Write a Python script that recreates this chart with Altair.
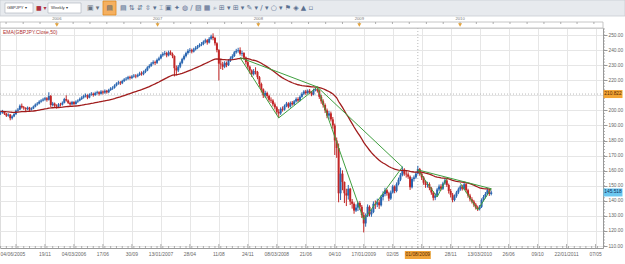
import altair as alt
import pandas as pd
import numpy as np

# ---------------- data ----------------
first_bar = "2005-06-11"          # weekly bars, one every 7 days
first_open = 198.0
ema_seed = 199.3                  # EMA value at the left edge

closes = [
    198.5, 199.2, 197.8, 196.5, 197.2, 194.8, 196.0, 197.5, 199.8, 200.5,
    203.0, 202.0, 201.5, 200.8, 201.8, 200.5, 201.2, 202.5, 203.8, 204.5,
    205.8, 206.5, 207.2, 208.0, 207.0, 209.5, 203.5, 204.5, 203.0, 202.5,
    204.0, 203.8, 205.0, 207.5, 206.5, 205.0, 204.0, 205.5, 204.2, 205.8,
    206.5, 207.5, 208.5, 209.5, 210.0, 208.5, 210.5, 211.0, 210.2, 211.5,
    212.0, 211.0, 212.5, 211.8, 213.0, 212.0, 213.5, 214.5, 215.0, 216.5,
    217.8, 218.5, 218.0, 219.5, 220.5, 221.0, 222.0, 221.5, 222.5, 223.0,
    222.5, 223.5, 224.5, 224.0, 225.5, 226.5, 228.5, 229.5, 231.0, 232.0,
    231.5, 233.5, 234.5, 236.5, 237.5, 238.0, 236.5, 238.5, 237.5, 236.0,
    228.0, 226.5, 229.0, 231.5, 234.0, 236.0, 238.0, 239.5, 240.0, 239.0,
    240.5, 241.5, 242.5, 243.5, 244.0, 245.5, 246.5, 245.0, 247.5, 249.0,
    248.0, 244.5, 240.0, 231.0, 230.5, 229.0, 231.5, 230.0, 233.0, 234.5,
    236.0, 238.5, 239.5, 240.0, 237.5, 238.0, 235.0, 232.0, 229.0, 226.5,
    224.0, 226.0, 225.5, 222.0, 217.5, 214.0, 210.0, 211.5, 209.5, 207.0,
    206.5, 204.0, 202.0, 199.0, 198.0, 201.0, 200.5, 203.0, 204.5, 202.5,
    205.0, 204.0, 206.0, 207.5, 206.5, 209.0, 211.0, 212.5, 211.5, 213.0,
    212.0, 210.5, 213.5, 214.0, 213.0, 209.0, 206.0, 203.5, 200.0, 196.5,
    198.0, 194.0, 190.0, 180.0, 175.0, 145.0, 158.0, 152.5, 145.0, 143.5,
    148.0, 139.5, 138.0, 133.5, 135.5, 138.5, 136.0, 130.5, 125.0, 130.0,
    136.0, 131.0, 132.5, 138.0, 137.5, 139.0, 137.0, 142.5, 144.5, 147.0,
    145.0, 141.5, 145.5, 149.5, 146.5, 151.0, 154.0, 157.0, 160.5, 158.0,
    157.5, 156.0, 149.0, 154.5, 155.5, 158.0, 161.0, 158.0, 155.5, 152.0,
    150.5, 151.0, 148.5, 145.5, 142.0, 143.5, 147.5, 149.5, 148.0, 151.5,
    153.5, 150.5, 146.5, 144.0, 140.5, 143.0, 145.5, 147.5, 149.5, 148.0,
    151.0, 147.0, 143.5, 141.0, 139.5, 137.5, 135.5, 134.5, 136.0, 140.5,
    142.5, 144.5, 147.0, 144.5, 145.518,
]
highs = [
    199.8, 200.3, 199.6, 198.3, 198.0, 197.6, 196.8, 198.2, 200.5, 201.6,
    203.9, 204.5, 202.9, 202.1, 202.6, 202.3, 202.0, 203.2, 204.6, 205.5,
    206.7, 207.4, 208.3, 208.9, 208.8, 212.0, 210.2, 205.6, 205.2, 204.0,
    204.8, 205.0, 205.9, 208.3, 210.0, 207.2, 205.8, 206.3, 206.1, 206.6,
    207.3, 208.5, 209.4, 210.4, 211.2, 210.6, 211.3, 212.1, 211.8, 212.4,
    213.0, 212.7, 213.4, 213.2, 213.9, 213.6, 214.3, 215.4, 216.0, 217.3,
    218.6, 219.6, 219.4, 220.3, 221.4, 222.1, 222.9, 223.0, 223.4, 224.1,
    224.0, 224.4, 225.6, 225.9, 226.4, 227.6, 229.3, 230.6, 232.0, 233.2,
    233.0, 234.4, 235.6, 237.4, 238.6, 239.4, 238.9, 239.6, 239.8, 238.4,
    236.5, 229.8, 230.1, 232.4, 234.9, 237.1, 238.9, 240.6, 241.3, 240.9,
    241.5, 242.6, 243.4, 244.5, 245.3, 246.4, 247.6, 247.3, 248.6, 250.2,
    251.1, 248.8, 245.2, 240.6, 233.8, 232.2, 232.6, 232.4, 234.0, 235.8,
    237.2, 239.4, 240.8, 241.5, 241.8, 239.6, 238.6, 235.7, 232.8, 229.7,
    227.2, 227.4, 228.6, 226.2, 222.8, 218.4, 214.6, 213.0, 212.4, 210.4,
    208.6, 207.4, 205.2, 202.8, 200.8, 202.0, 202.6, 203.9, 205.6, 205.4,
    205.9, 206.2, 206.9, 208.6, 208.7, 209.9, 212.0, 213.4, 213.6, 213.9,
    214.2, 212.9, 214.4, 215.0, 215.6, 213.8, 210.2, 207.3, 204.6, 201.2,
    199.6, 199.2, 195.6, 191.2, 182.0, 178.0, 162.0, 160.2, 152.8, 148.0,
    150.5, 148.6, 141.2, 139.0, 137.6, 139.5, 139.8, 137.2, 132.4, 131.6,
    137.6, 137.0, 134.4, 139.6, 140.2, 141.4, 140.8, 143.8, 146.3, 148.6,
    148.0, 146.0, 146.8, 150.6, 150.2, 152.2, 155.4, 158.4, 162.8, 161.6,
    159.8, 158.9, 156.8, 155.6, 156.8, 159.3, 163.2, 161.8, 158.8, 156.4,
    153.4, 152.6, 152.2, 149.2, 146.4, 145.0, 148.6, 150.8, 151.0, 152.6,
    155.0, 155.2, 151.4, 147.8, 145.2, 144.2, 146.6, 148.8, 150.4, 150.6,
    152.4, 151.8, 148.0, 144.6, 142.4, 140.6, 138.6, 136.8, 137.2, 141.6,
    143.8, 145.8, 148.4, 147.8, 146.8,
]
lows = [
    197.0, 197.8, 196.9, 195.6, 195.8, 193.4, 193.9, 195.5, 197.0, 199.0,
    200.2, 201.2, 200.4, 199.6, 200.2, 199.7, 199.9, 200.8, 202.0, 203.1,
    204.0, 205.1, 205.9, 206.4, 205.8, 206.5, 202.0, 202.6, 201.8, 201.2,
    202.0, 202.6, 203.2, 204.6, 205.8, 204.2, 203.0, 203.6, 203.4, 203.8,
    205.0, 206.0, 206.9, 207.8, 208.6, 207.4, 208.0, 209.7, 209.1, 209.6,
    210.5, 209.8, 210.4, 210.6, 211.0, 211.1, 211.5, 212.9, 213.6, 214.4,
    215.9, 217.0, 216.8, 217.4, 218.8, 219.7, 220.3, 220.4, 220.8, 221.7,
    221.3, 221.9, 222.8, 223.0, 223.3, 224.7, 226.0, 227.8, 228.9, 230.4,
    230.1, 230.8, 232.7, 233.9, 235.6, 236.4, 235.2, 235.8, 236.6, 234.6,
    222.5, 223.2, 225.4, 228.0, 230.6, 233.2, 235.1, 237.0, 238.2, 237.8,
    238.4, 239.7, 240.6, 241.8, 242.6, 243.2, 244.5, 243.6, 244.4, 246.8,
    246.5, 243.0, 238.5, 219.8, 227.4, 226.8, 228.0, 228.6, 229.4, 232.1,
    233.6, 235.4, 237.6, 238.3, 236.4, 235.8, 233.6, 230.4, 227.2, 224.4,
    222.2, 223.1, 223.8, 220.6, 215.6, 211.8, 208.2, 208.5, 207.9, 205.6,
    204.8, 202.6, 200.6, 197.2, 194.9, 197.0, 199.2, 199.8, 202.1, 201.4,
    201.8, 203.1, 203.4, 205.2, 205.3, 205.9, 208.4, 210.2, 210.3, 210.8,
    211.0, 209.4, 210.0, 212.6, 211.8, 207.6, 204.4, 201.8, 198.2, 194.8,
    194.0, 192.6, 187.8, 170.4, 168.5, 139.0, 140.5, 147.0, 138.5, 136.5,
    140.8, 137.2, 134.8, 131.4, 132.6, 133.2, 133.8, 128.6, 119.0, 122.8,
    129.2, 129.6, 129.4, 131.8, 134.6, 135.8, 134.6, 136.2, 140.2, 143.0,
    143.4, 139.8, 140.6, 144.8, 145.0, 145.6, 150.2, 153.0, 156.2, 156.6,
    155.4, 154.6, 147.2, 148.2, 152.8, 154.6, 157.4, 156.6, 153.8, 150.6,
    148.6, 148.8, 147.0, 144.0, 140.2, 140.4, 142.6, 146.4, 146.8, 147.2,
    150.6, 149.2, 144.8, 142.2, 139.0, 139.6, 142.0, 144.4, 146.6, 146.8,
    147.2, 145.6, 142.0, 139.6, 138.2, 136.0, 134.2, 133.2, 133.6, 135.2,
    139.6, 141.6, 143.8, 143.2, 143.6,
]

# bottom date labels
label_dates = ["2005-11-19", "2006-03-04", "2006-06-17", "2006-09-30", "2007-01-13",
               "2007-04-28", "2007-08-11", "2007-11-24", "2008-03-08", "2008-06-21",
               "2008-10-04", "2009-01-17", "2009-05-02", "2009-11-28", "2010-03-13",
               "2010-06-26", "2010-10-09", "2011-01-22", "2011-05-07"]
label_texts = ["19/11", "04/03/2006", "17/06", "30/09", "13/01/2007",
               "28/04", "11/08", "24/11", "08/03/2008", "21/06",
               "04/10", "17/01/2009", "02/05", "28/11", "13/03/2010",
               "26/06", "09/10", "22/01/2011", "07/05"]
first_label_date = "2005-06-04"
first_label_text = "04/06/2005"
year_dates = ["2006-01-01", "2007-01-01", "2008-01-01", "2009-01-01", "2010-01-01"]
year_texts = ["2006", "2007", "2008", "2009", "2010"]
y_tick_values = [110, 120, 130, 140, 150, 160, 170, 180, 190, 200, 210, 220, 230, 240, 250]

# green trend lines: turning points and the segments between them
trend_point_dates = {"A": "2007-10-27", "B": "2008-03-15", "C": "2008-08-02", "D": "2009-01-17",
                     "E": "2009-06-06", "F": "2009-08-01", "G": "2009-10-10", "H": "2009-11-14",
                     "I": "2010-01-02", "J": "2010-03-06", "L": "2010-04-24"}
trend_point_prices = {"A": 235.0, "B": 195.0, "C": 215.5, "D": 127.5, "E": 162.4, "F": 160.5,
                      "G": 142.5, "H": 155.0, "I": 151.6, "J": 133.9, "L": 148.0}
trend_segments = [("A", "C"), ("A", "B"), ("B", "C"), ("C", "E"), ("C", "D"), ("D", "E"),
                  ("F", "L"), ("F", "G"), ("G", "H"), ("I", "J"), ("J", "L")]

cursor_date = "2009-08-01"
cursor_date_text = "01/08/2009"
cursor_price = 210.822
last_price = 145.518
ema_label = "EMA(GBPJPY.Close,50)"
symbol_text = "GBPJPY"
period_text = "Weekly"

# ---------------- layout / style ----------------
W, H = 603, 220
PAD = {"left": 0, "top": 28, "right": 22, "bottom": 16}
BLUE = "#2a66b0"
RED = "#c22626"
EMA_C = "#a01c1c"
GREEN = "#3f9f3f"
GRID = "#e6e6e6"
AXC = "#9a9a9a"
FONT = "Liberation Sans"

dates = pd.date_range(first_bar, periods=len(closes), freq="7D")
opens = [first_open] + closes[:-1]
df = pd.DataFrame({"date": dates, "open": opens, "high": highs, "low": lows, "close": closes})
df["high"] = df[["high", "open", "close"]].max(axis=1)
df["low"] = df[["low", "open", "close"]].min(axis=1)
df["dir"] = np.where(df["close"] >= df["open"], "up", "down")
alpha = 2.0 / 51.0
ema, prev = [], ema_seed
for c in closes:
    prev = alpha * c + (1 - alpha) * prev
    ema.append(prev)
df["ema"] = ema

major_ticks = pd.date_range("2005-08-06", "2011-05-07", freq="105D")
minor_ticks = pd.date_range("2005-06-11", "2011-06-01", freq="21D")
ruler_ticks = pd.date_range("2005-07-01", "2011-06-01", freq="2MS")
y_minor = np.arange(110, 255, 2)


def dt(d):
    return alt.DateTime(year=d.year, month=d.month, date=d.day)


XS = alt.Scale(domain=[alt.DateTime(year=2005, month=6, date=9), alt.DateTime(year=2011, month=6, date=3)])
YS = alt.Scale(domain=[108.673, 254.645], nice=False, zero=False)
XAX = alt.Axis(values=[dt(d) for d in major_ticks], grid=True, gridColor=GRID, gridWidth=1,
               labels=False, ticks=False, domain=True, domainColor=AXC, title=None)
# the 210.00 label is hidden under the orange cursor-price box in the reference
YAX = alt.Axis(orient="right", values=y_tick_values, format=".2f", labelFont=FONT, labelFontSize=4.8,
               labelColor="#666666", tickColor=AXC, tickSize=4, labelPadding=1, domainColor=AXC,
               labelExpr="datum.value == 210 ? '' : datum.label",
               grid=True, gridColor=GRID, title=None)


def X(field):
    return alt.X(f"{field}:T", scale=XS, axis=XAX)


def Y(field):
    return alt.Y(f"{field}:Q", scale=YS, axis=YAX)


one = pd.DataFrame({"k": [0]})
col = alt.Color("dir:N", scale=alt.Scale(domain=["up", "down"], range=[BLUE, RED]), legend=None)

# crosshair
cross_df = pd.DataFrame({"date": [pd.Timestamp(cursor_date)], "price": [cursor_price]})
cross_h = alt.Chart(cross_df).mark_rule(color="#a8a8a8", strokeDash=[1, 2], strokeWidth=0.8).encode(
    y=Y("price"), x=alt.value(0), x2=alt.value(W))
cross_v = alt.Chart(cross_df).mark_rule(color="#a8a8a8", strokeDash=[1, 2], strokeWidth=0.8).encode(
    x=X("date"), y=alt.value(0), y2=alt.value(H))

wicks = alt.Chart(df).mark_rule(strokeWidth=1).encode(x=X("date"), y=Y("low"), y2="high", color=col)
bodies = alt.Chart(df).mark_rule(strokeWidth=2).encode(x=X("date"), y=Y("open"), y2="close", color=col)
ema_line = alt.Chart(df).mark_line(color=EMA_C, strokeWidth=1.3).encode(x=X("date"), y=Y("ema"))

seg_df = pd.DataFrame({
    "d1": pd.to_datetime([trend_point_dates[a] for a, b in trend_segments]),
    "p1": [trend_point_prices[a] for a, b in trend_segments],
    "d2": pd.to_datetime([trend_point_dates[b] for a, b in trend_segments]),
    "p2": [trend_point_prices[b] for a, b in trend_segments],
})
trend = alt.Chart(seg_df).mark_rule(color=GREEN, strokeWidth=1).encode(
    x=X("d1"), y=Y("p1"), x2="d2", y2="p2")

# right-axis minor ticks
ymin_df = pd.DataFrame({"p": y_minor})
y_minor_ticks = alt.Chart(ymin_df).mark_rule(color=AXC, strokeWidth=0.8).encode(
    y=Y("p"), x=alt.value(W), x2=alt.value(W + 2))

# bottom ruler ticks
maj_df = pd.DataFrame({"date": major_ticks})
min_df = pd.DataFrame({"date": minor_ticks})
x_major_ticks = alt.Chart(maj_df).mark_rule(color=AXC, strokeWidth=0.8).encode(
    x=X("date"), y=alt.value(H), y2=alt.value(H - 4))
x_minor_ticks = alt.Chart(min_df).mark_rule(color=AXC, strokeWidth=0.8).encode(
    x=X("date"), y=alt.value(H), y2=alt.value(H - 2))

# bottom labels
lab_df = pd.DataFrame({"date": pd.to_datetime(label_dates), "t": label_texts})
labels = alt.Chart(lab_df).mark_text(font=FONT, fontSize=4.9, color="#666666", baseline="middle").encode(
    x=X("date"), y=alt.value(H + 7), text="t:N")
first_df = pd.DataFrame({"date": [pd.Timestamp(first_label_date)], "t": [first_label_text]})
first_lab = alt.Chart(first_df).mark_text(font=FONT, fontSize=4.9, color="#666666", baseline="middle",
                                          align="left", dx=2).encode(
    x=X("date"), y=alt.value(H + 7), text="t:N")
cur_df = pd.DataFrame({"date": [pd.Timestamp(cursor_date)], "t": [cursor_date_text]})
cur_box = alt.Chart(cur_df).mark_tick(orient="horizontal", size=26, thickness=8, color="#f0a43a",
                                      opacity=1).encode(x=X("date"), y=alt.value(H + 7))
cur_lab = alt.Chart(cur_df).mark_text(font=FONT, fontSize=4.9, color="#5a2a00", baseline="middle").encode(
    x=X("date"), y=alt.value(H + 7), text="t:N")

# price boxes on the right axis
pb_df = pd.DataFrame({"price": [cursor_price], "t": [f"{cursor_price:.3f}"]})
lp_df = pd.DataFrame({"price": [last_price], "t": [f"{last_price:.3f}"]})
pbox = alt.Chart(pb_df).mark_tick(orient="horizontal", size=19, thickness=8, color="#f3a535", opacity=1).encode(
    y=Y("price"), x=alt.value(W + 10))
ptext = alt.Chart(pb_df).mark_text(font=FONT, fontSize=4.8, color="#5a2a00").encode(
    y=Y("price"), x=alt.value(W + 10), text="t:N")
lbox = alt.Chart(lp_df).mark_tick(orient="horizontal", size=19, thickness=8, color="#6cc8f0", opacity=1).encode(
    y=Y("price"), x=alt.value(W + 10))
ltext = alt.Chart(lp_df).mark_text(font=FONT, fontSize=4.8, color="#103060").encode(
    y=Y("price"), x=alt.value(W + 10), text="t:N")

ema_text = alt.Chart(one).mark_text(font=FONT, fontSize=5, color="#b03030", align="left",
                                    baseline="middle").encode(
    x=alt.value(3), y=alt.value(4), text=alt.value(ema_label))

# top year ruler
ruler_bg = alt.Chart(one).mark_rect(fill="white", stroke="#b8b8b8", strokeWidth=0.8).encode(
    x=alt.value(0), x2=alt.value(W), y=alt.value(-6), y2=alt.value(0))
rt_df = pd.DataFrame({"date": ruler_ticks})
ruler_t = alt.Chart(rt_df).mark_rule(color="#9a9a9a", strokeWidth=0.8).encode(
    x=X("date"), y=alt.value(-6), y2=alt.value(-4))
yr_df = pd.DataFrame({"date": pd.to_datetime(year_dates), "t": year_texts})
yr_text = alt.Chart(yr_df).mark_text(font=FONT, fontSize=4.2, color="#777777", baseline="middle").encode(
    x=X("date"), y=alt.value(-9), text="t:N")
yr_tri = alt.Chart(yr_df).mark_point(shape="triangle-down", filled=True, size=16, color="#e3a23a",
                                     opacity=1).encode(x=X("date"), y=alt.value(-3))

# toolbar
tb = alt.Chart(one).mark_rect(fill="#e7eaee", stroke="#c9cdd2", strokeWidth=0.8).encode(
    x=alt.value(0), x2=alt.value(W + 22), y=alt.value(-28), y2=alt.value(-12))
dd1 = alt.Chart(one).mark_rect(fill="white", stroke="#a9b0b8", strokeWidth=0.6).encode(
    x=alt.value(5), x2=alt.value(33), y=alt.value(-25), y2=alt.value(-15))
dd1t = alt.Chart(one).mark_text(font=FONT, fontSize=4.2, color="#333333", align="left", baseline="middle").encode(
    x=alt.value(7), y=alt.value(-20), text=alt.value(symbol_text + "  \u25be"))
flag = alt.Chart(one).mark_text(font="DejaVu Sans", fontSize=6, color="#b03040", align="left",
                                baseline="middle").encode(
    x=alt.value(36), y=alt.value(-20), text=alt.value("\u25a0 \u25be"))
dd2 = alt.Chart(one).mark_rect(fill="white", stroke="#a9b0b8", strokeWidth=0.6).encode(
    x=alt.value(48), x2=alt.value(81), y=alt.value(-25), y2=alt.value(-15))
dd2t = alt.Chart(one).mark_text(font=FONT, fontSize=4.2, color="#333333", align="left", baseline="middle").encode(
    x=alt.value(51), y=alt.value(-20), text=alt.value(period_text + "          \u25be"))
orange_btn = alt.Chart(one).mark_rect(fill="#f5b060", stroke="#e08a20", strokeWidth=0.8).encode(
    x=alt.value(103), x2=alt.value(116), y=alt.value(-27), y2=alt.value(-13))
icons1 = alt.Chart(one).mark_text(font="DejaVu Sans", fontSize=7, color="#6a7480", align="left",
                                  baseline="middle").encode(
    x=alt.value(87), y=alt.value(-20), text=alt.value("\u25a3 \u25be"))
icons_btn = alt.Chart(one).mark_text(font="DejaVu Sans", fontSize=7, color="#5a6470", align="center",
                                     baseline="middle").encode(
    x=alt.value(109.5), y=alt.value(-20), text=alt.value("\u25a4"))
icons2 = alt.Chart(one).mark_text(font="DejaVu Sans", fontSize=7, color="#5a7090", align="left",
                                  baseline="middle").encode(
    x=alt.value(120), y=alt.value(-20),
    text=alt.value("\u25a4   \u21c5   \u21f5   \u21f3 \u25be   \u2336   \u25a3   \u2726   \u25cd   "
                   "\u2215   \u25a8   \u25a6   \u2315   \u229e \u25be   \u229e \u25be   \u270e \u25be   "
                   "\u2215 \u25be   \u25cb \u25be   \u2691   \u25c8   \u25b2   \u25ab"))

chart = alt.layer(
    cross_h, cross_v, wicks, bodies, ema_line, trend,
    y_minor_ticks, x_major_ticks, x_minor_ticks,
    labels, first_lab, cur_box, cur_lab,
    pbox, ptext, lbox, ltext, ema_text,
    ruler_bg, ruler_t, yr_tri, yr_text,
    tb, dd1, dd1t, flag, dd2, dd2t, orange_btn, icons1, icons_btn, icons2,
).properties(
    width=W, height=H,
    autosize=alt.AutoSizeParams(type="none"),
    padding=PAD,
).configure_view(stroke="#b0b0b0", strokeWidth=0.8).configure(background="white")

chart.save("out.html", embed_options={"renderer": "svg", "actions": False})
